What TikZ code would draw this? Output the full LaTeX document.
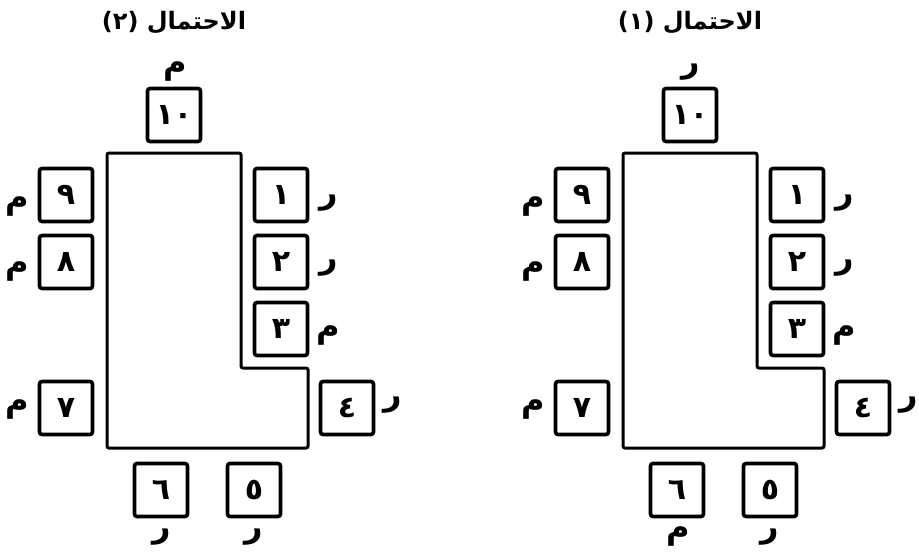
\documentclass[tikz,border=0pt]{standalone}
\usepackage{fontspec}
\TeXXeTstate=1
\newfontfamily\arabicfont[Script=Arabic]{DejaVu Sans}
\begin{document}
\begin{tikzpicture}[x=1pt,y=-1pt,
  seat/.style={draw, line width=3.6pt, rounded corners=2.5pt, minimum width=53pt, minimum height=53pt, inner sep=0pt, font=\arabicfont\bfseries\fontsize{30}{30}\selectfont},
  lab/.style={inner sep=0pt, font=\arabicfont\bfseries\fontsize{32}{32}\selectfont},
  ttl/.style={inner sep=0pt, font=\arabicfont\bfseries\fontsize{24}{24}\selectfont},
  tablebody/.style={draw, line width=3pt, rounded corners=2pt}]
\useasboundingbox (0,0) rectangle (919,555);
% ---------- left: option 2 ----------
\node[ttl] (tA) at (174,23) {\beginR الاحتمال (٢)\endR};
\draw[tablebody] (107,153) -- (241,153) -- (241,368) -- (308,368) -- (308,448) -- (107,448) -- cycle;
\node[seat] (a10) at (174,115) {١٠};
\node[seat] (a9) at (66,195) {٩};
\node[seat] (a8) at (66,262) {٨};
\node[seat] (a7) at (66,408) {٧};
\node[seat] (a1) at (281,195) {١};
\node[seat] (a2) at (281,262) {٢};
\node[seat] (a3) at (281,329) {٣};
\node[seat] (a4) at (347,408) {٤};
\node[seat] (a6) at (161,490) {٦};
\node[seat] (a5) at (254,490) {٥};
\node[lab] (la10) at (175,72) {م};
\node[lab] (la9) at (17,207) {م};
\node[lab] (la8) at (17,272) {م};
\node[lab] (la7) at (17,410) {م};
\node[lab] (la1) at (329,203) {ر};
\node[lab] (la2) at (329,268) {ر};
\node[lab] (la3) at (328,336) {م};
\node[lab] (la4) at (393,405) {ر};
\node[lab] (la6) at (162,537) {ر};
\node[lab] (la5) at (254,537) {ر};
% ---------- right: option 1 ----------
\begin{scope}[xshift=516pt]
\node[ttl] (tB) at (174,23) {\beginR الاحتمال (١)\endR};
\draw[tablebody] (107,153) -- (241,153) -- (241,368) -- (308,368) -- (308,448) -- (107,448) -- cycle;
\node[seat] (b10) at (174,115) {١٠};
\node[seat] (b9) at (66,195) {٩};
\node[seat] (b8) at (66,262) {٨};
\node[seat] (b7) at (66,408) {٧};
\node[seat] (b1) at (281,195) {١};
\node[seat] (b2) at (281,262) {٢};
\node[seat] (b3) at (281,329) {٣};
\node[seat] (b4) at (347,408) {٤};
\node[seat] (b6) at (161,490) {٦};
\node[seat] (b5) at (254,490) {٥};
\node[lab] (lb10) at (175,72) {ر};
\node[lab] (lb9) at (17,207) {م};
\node[lab] (lb8) at (17,272) {م};
\node[lab] (lb7) at (17,410) {م};
\node[lab] (lb1) at (329,203) {ر};
\node[lab] (lb2) at (329,268) {ر};
\node[lab] (lb3) at (328,336) {م};
\node[lab] (lb4) at (393,405) {ر};
\node[lab] (lb6) at (162,537) {م};
\node[lab] (lb5) at (254,537) {ر};
\end{scope}
\end{tikzpicture}
\end{document}
